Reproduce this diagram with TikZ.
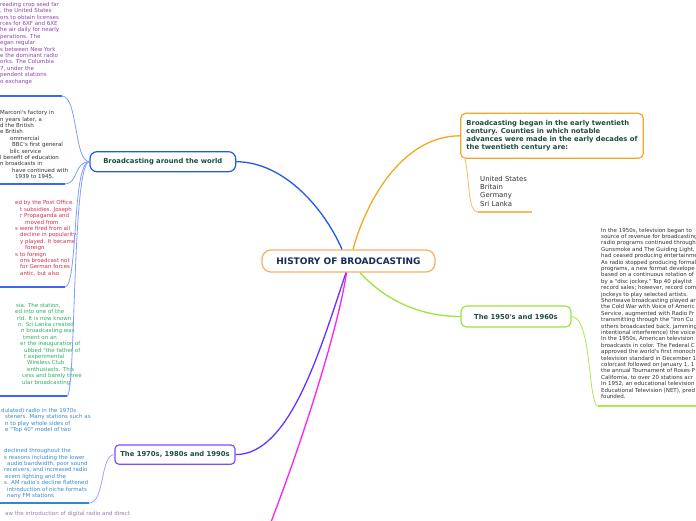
\documentclass[tikz,border=0pt]{standalone}
\usepackage{fontspec}
\setmainfont{DejaVu Sans}[Ligatures=TeXOff]
\definecolor{orangeA}{HTML}{F5A623}
\definecolor{orangeB}{HTML}{F5B26B}
\definecolor{orangeC}{HTML}{F7BA5E}
\definecolor{blueA}{HTML}{2158F0}
\definecolor{blueB}{HTML}{7F9DFF}
\definecolor{blueC}{HTML}{3D66F2}
\definecolor{greenA}{HTML}{9EE33F}
\definecolor{greenB}{HTML}{A6EA55}
\definecolor{violetA}{HTML}{7B4DFF}
\definecolor{violetB}{HTML}{6633FF}
\definecolor{violetC}{HTML}{B399FF}
\definecolor{magentaA}{HTML}{FF22EE}
\definecolor{labelcol}{HTML}{1E4D40}
\definecolor{navy}{HTML}{172A5A}
\definecolor{bodydark}{HTML}{333333}
\definecolor{bodypurple}{HTML}{8E44AD}
\definecolor{bodyred}{HTML}{D0304F}
\definecolor{bodygreen}{HTML}{2FAF62}
\definecolor{bodyblue}{HTML}{3A8ACD}
\definecolor{bodymauve}{HTML}{9B7BAE}
\definecolor{ulblue}{HTML}{3388CC}
\begin{document}
\begin{tikzpicture}[x=1pt,y=-1pt,
  lbl/.style={font=\fontsize{6.8}{8.1}\selectfont\bfseries, text=labelcol, fill=white, line width=1.2pt, rounded corners=#1, inner sep=0pt},
  body/.style={font=\fontsize{5.5}{6.4}\selectfont, align=left, inner sep=0pt, anchor=north west},
  mainline/.style={line width=1.3pt},
  childline/.style={line width=0.8pt},
  uline/.style={line width=1.6pt}]
\useasboundingbox (0,0) rectangle (696,520);
\clip (0,0) rectangle (696,520);
\fill[white] (0,0) rectangle (696,520);

% ---------- topic nodes ----------
\node[draw=orangeB, fill=white, line width=1.3pt, rounded corners=9pt, inner sep=0pt,
      minimum width=173pt, minimum height=22pt, text=navy,
      font=\fontsize{9}{10}\selectfont\bfseries] (hist) at (348.5,261) {HISTORY OF BROADCASTING};

\node[lbl=5pt, draw=orangeA, minimum width=182.6pt, minimum height=45pt, align=left]
  (began) at (552,135.8) {Broadcasting began in the early twentieth\\century. Counties in which notable\\advances were made in the early decades of\\the twentieth century are:};

\node[font=\fontsize{6.9}{8.3}\selectfont, text=bodydark, align=left, inner sep=0pt, anchor=north west]
  (countries) at (480,175.7) {United States\\Britain\\Germany\\Sri Lanka};

\node[lbl=7pt, draw=blueA, minimum width=145.7pt, minimum height=20pt] (world) at (162.8,161.7) {Broadcasting around the world};

\node[lbl=6pt, draw=greenA, minimum width=110pt, minimum height=21pt] (fifties) at (516,316.5) {The 1950's and 1960s};

\node[lbl=4pt, draw=violetA, minimum width=120pt, minimum height=19.3pt] (seventies) at (175,454.6) {The 1970s, 1980s and 1990s};

% ---------- text blocks ----------
\node[body, text=bodypurple] (usa) at (0,2.0) {reading crop seed far\\, the United States\\ors to obtain licenses\\rces for 6XF and 6XE\\he air daily for nearly\\perations. The\\egan regular\\s between New York\\e the dominant radio\\orks. The Columbia\\7, under the\\pendent stations\\o exchange};

\node[body, text=bodydark] (uk) at (0,110.3) {Marconi's factory in\\n years later, a\\d the British\\e British\\\hspace*{10pt}ommercial\\\hspace*{12pt}BBC's first general\\\hspace*{10pt}blic service\\l benefit of education\\n broadcasts in\\\hspace*{12pt}have continued with\\\hspace*{15pt}1939 to 1945.};

\node[body, text=bodyred] (germany) at (0,200.6) {\hspace*{15pt}ed by the Post Office.\\\hspace*{20pt}t subsidies. Joseph\\\hspace*{20pt}r Propaganda and\\\hspace*{25pt}moved from\\\hspace*{15pt}s were fired from all\\\hspace*{20pt}decline in popularity\\\hspace*{20pt}y played. It became\\\hspace*{25pt}foreign\\\hspace*{15pt}s to foreign\\\hspace*{20pt}ons broadcast not\\\hspace*{20pt}for German forces\\\hspace*{20pt}antic, but also};

\node[body, text=bodygreen] (srilanka) at (0,303.0) {\hspace*{16pt}sia. The station,\\\hspace*{15pt}ed into one of the\\\hspace*{17pt}rld. It is now known\\\hspace*{18pt}n. Sri Lanka created\\\hspace*{21pt}n broadcasting was\\\hspace*{23pt}tment on an\\\hspace*{20pt}er the inauguration of\\\hspace*{24pt}ubbed "the father of\\\hspace*{24pt}t experimental\\\hspace*{27pt}Wireless Club\\\hspace*{27pt}enthusiasts. This\\\hspace*{22pt}cess and barely three\\\hspace*{22pt}ular broadcasting};

\node[body, text=bodydark] (fiftiestext) at (601,227.8) {In the 1950s, television began to\\source of revenue for broadcasting\\radio programs continued through\\Gunsmoke and The Guiding Light,\\had ceased producing entertainme\\As radio stopped producing formal\\programs, a new format develope\\based on a continuous rotation of\\by a "disc jockey." Top 40 playlist\\record sales; however, record com\\jockeys to play selected artists.\\Shortwave broadcasting played ar\\the Cold War with Voice of Americ\\Service, augmented with Radio Fr\\transmitting through the "Iron Cu\\others broadcasted back, jamming\\intentional interference) the voice\\In the 1950s, American television\\broadcasts in color. The Federal C\\approved the world's first monoch\\television standard in December 1\\colorcast followed on January 1, 1\\the annual Tournament of Roses P\\California, to over 20 stations acr\\In 1952, an educational television\\Educational Television (NET), pred\\founded.};

\node[body, text=bodyblue] (fm) at (0,408.0) {\hspace*{1pt}dulated) radio in the 1970s\\\hspace*{5pt}steners. Many stations such as\\\hspace*{5pt}n to play whole sides of\\\hspace*{5pt}e "Top 40" model of two};

\node[body, text=bodyblue] (am) at (0,448.3) {\hspace*{4pt}declined throughout the\\\hspace*{4pt}s reasons including the lower\\\hspace*{7pt}audio bandwidth, poor sound\\\hspace*{4pt}receivers, and increased radio\\\hspace*{5pt}ecent lighting and the\\\hspace*{4pt}s. AM radio's decline flattened\\\hspace*{7pt}introduction of niche formats\\\hspace*{7pt}nany FM stations};

\node[body, text=bodymauve] (digital) at (5,511.2) {aw the introduction of digital radio and direct};

% ---------- free ends ----------
\coordinate (ucountriesA) at (478,212);
\coordinate (ucountriesB) at (532,212);
\coordinate (ufiftiesA) at (598,406);
\coordinate (ufiftiesB) at (700,406);
\coordinate (u1A) at (62,96);   \coordinate (u1B) at (-3,96);
\coordinate (u2A) at (65,184);  \coordinate (u2B) at (-3,184);
\coordinate (u3A) at (65,287);  \coordinate (u3B) at (-3,287);
\coordinate (u4A) at (67,396);  \coordinate (u4B) at (-3,396);
\coordinate (u5A) at (89,503);  \coordinate (u5B) at (-3,503);
\coordinate (nineties) at (262,545);

% ---------- main connectors ----------
\draw[mainline, orangeA] ([xshift=4.5pt]hist.north) .. controls (365,205) and (400,136) .. (began.west);
\draw[mainline, blueA] ([xshift=-6.5pt]hist.north) .. controls (325,210) and (285,162) .. (world.east);
\draw[mainline, greenA] ([xshift=11.5pt]hist.south) .. controls (385,300) and (420,316.5) .. (fifties.west);
\draw[mainline, violetB] ([xshift=-2.5pt]hist.south) .. controls (320,350) and (290,454.6) .. (seventies.east);
\draw[mainline, magentaA] ([xshift=-2pt]hist.south) .. controls (338,330) and (300,450) .. (nineties);

% ---------- child connectors ----------
\draw[childline, orangeC] ([xshift=5pt]began.south west) .. controls (470,185) and (468,212) .. (ucountriesA);
\draw[uline, orangeC] (ucountriesA) -- (ucountriesB);

\draw[childline, greenB] (fifties.east) .. controls (592,316.5) and (588,406) .. (ufiftiesA);
\draw[uline, greenB] (ufiftiesA) -- (ufiftiesB);

\draw[childline, blueB] (world.west) .. controls (74,161.7) and (78,96) .. (u1A);
\draw[childline, blueB] (world.west) .. controls (74,161.7) and (78,184) .. (u2A);
\draw[childline, blueB] (world.west) .. controls (72,161.7) and (78,287) .. (u3A);
\draw[childline, blueB] (world.west) .. controls (72,161.7) and (76,396) .. (u4A);
\draw[uline, blueC] (u1A) -- (u1B);
\draw[uline, blueC] (u2A) -- (u2B);
\draw[uline, blueC] (u3A) -- (u3B);
\draw[uline, blueC] (u4A) -- (u4B);

\draw[childline, violetC] (seventies.west) .. controls (100,454.6) and (105,503) .. (u5A);
\draw[line width=2pt, ulblue] (u5A) -- (u5B);
\end{tikzpicture}
\end{document}
